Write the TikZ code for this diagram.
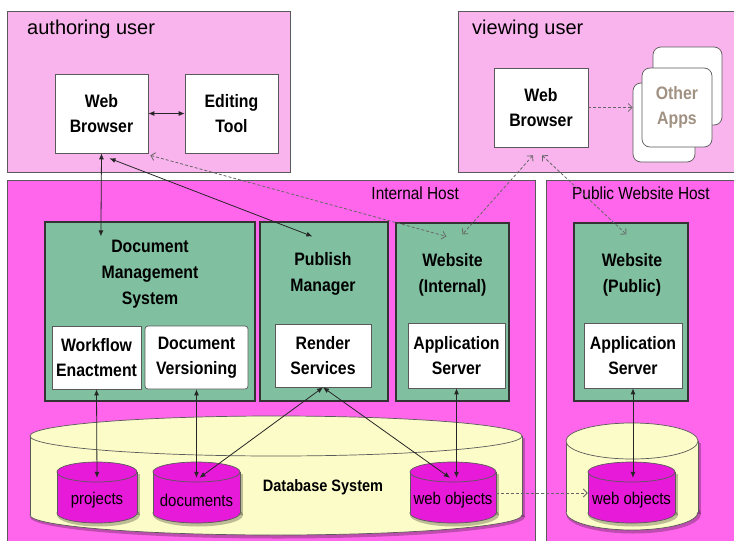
\documentclass[tikz,border=0pt]{standalone}
\usepackage{fontspec}
\setmainfont{Liberation Sans}
\newfontfamily\tallfont{Liberation Sans}[FakeStretch=0.88]
\usetikzlibrary{arrows.meta}
\definecolor{userpink}{RGB}{249,180,238}
\definecolor{hostpink}{RGB}{255,102,236}
\definecolor{boxgreen}{RGB}{128,192,160}
\definecolor{dbyellow}{RGB}{252,252,200}
\definecolor{cylmag}{RGB}{230,26,216}
\definecolor{appgray}{RGB}{160,145,130}
\definecolor{edgegray}{RGB}{90,90,90}
\newcommand\drawcyl[6]{%
  \fill[black, opacity=0.25] (#1+1.5,#3+2) ellipse [x radius=#4+1.5, y radius=#5+1.5];
  \fill[black, opacity=0.25] (#1-#4+1.5,#2+2) rectangle (#1+#4+3,#3+2);
  \filldraw[fill=#6, draw=edgegray, line width=0.7pt] (#1,#3) ellipse [x radius=#4, y radius=#5];
  \fill[#6] (#1-#4,#2) rectangle (#1+#4,#3);
  \draw[edgegray, line width=0.7pt] (#1-#4,#2) -- (#1-#4,#3) (#1+#4,#2) -- (#1+#4,#3);
  \filldraw[fill=#6, draw=edgegray, line width=0.7pt] (#1,#2) ellipse [x radius=#4, y radius=#5];
}
\tikzset{
  userbox/.style={draw=edgegray, fill=userpink, line width=0.6pt, inner sep=0},
  hostbox/.style={draw=edgegray, fill=hostpink, line width=0.6pt, inner sep=0},
  greenbox/.style={draw=black!80, fill=boxgreen, line width=1.2pt, inner sep=0},
  wbox/.style={draw=edgegray, fill=white, line width=0.7pt, align=center, inner sep=0,
    font=\tallfont\fontsize{18}{25.5}\selectfont\bfseries},
  appcard/.style={draw=edgegray, fill=white, line width=0.7pt, rounded corners=8pt, inner sep=0,
    align=center, text=appgray, font=\tallfont\fontsize{18}{25.5}\selectfont\bfseries},
  title/.style={align=center, inner sep=0, font=\tallfont\fontsize{18}{26}\selectfont\bfseries},
  grouplabel/.style={inner sep=0, font=\fontsize{20}{24}\selectfont},
  hostlabel/.style={inner sep=0, font=\tallfont\fontsize{17.5}{20}\selectfont},
  cyllabel/.style={inner sep=0, font=\tallfont\fontsize{17}{20}\selectfont},
  conn/.style={black!85, line width=0.8pt, {Latex[length=6pt,width=5pt]}-{Latex[length=6pt,width=5pt]}},
  dconn/.style={black!60, line width=0.8pt, dash pattern=on 3pt off 2pt,
    {Straight Barb[length=4pt,width=8pt]}-{Straight Barb[length=4pt,width=8pt]}},
  dconnone/.style={black!60, line width=0.8pt, dash pattern=on 3pt off 2pt,
    -{Straight Barb[length=4pt,width=8pt]}},
}
\begin{document}
\begin{tikzpicture}[x=1pt, y=-1pt]
\useasboundingbox (0,0) rectangle (734,541);
\fill[white] (0,0) rectangle (734,541);
% hosts
\node[hostbox, minimum width=528pt, minimum height=364pt] (intHost) at (271,362) {};
\node[hostbox, minimum width=200pt, minimum height=364pt] (pubHost) at (646,362) {};
\node[hostlabel, anchor=base east] (intHostT) at (459,199) {Internal Host};
\node[hostlabel, anchor=base west] (pubHostT) at (572,199) {Public Website Host};
% users
\node[userbox, minimum width=283pt, minimum height=161pt] (authU) at (148.5,91.5) {};
\node[userbox, minimum width=290pt, minimum height=161pt] (viewU) at (603,91.5) {};
\node[grouplabel, anchor=base west] (authUT) at (27,34) {authoring user};
\node[grouplabel, anchor=base west] (viewUT) at (472,34) {viewing user};
\node[wbox, minimum width=93pt, minimum height=79pt] (wbA) at (101.5,113.5) {Web\\Browser};
\node[wbox, minimum width=93pt, minimum height=79pt] (edit) at (231.5,113.5) {Editing\\Tool};
\node[wbox, minimum width=94pt, minimum height=79pt] (wbV) at (541,107.5) {Web\\Browser};
\node[appcard, minimum width=69pt, minimum height=78pt] (app1) at (687.5,86) {};
\node[appcard, minimum width=62pt, minimum height=79pt] (app2) at (664,122.5) {};
\node[appcard, minimum width=70pt, minimum height=79pt] (app3) at (677,107.5) {Other\\Apps};
% green components
\node[greenbox, minimum width=210pt, minimum height=179pt] (dms) at (150,311.5) {};
\node[greenbox, minimum width=128pt, minimum height=179pt] (pm) at (324,311.5) {};
\node[greenbox, minimum width=113pt, minimum height=178pt] (wsI) at (452.5,312) {};
\node[greenbox, minimum width=114pt, minimum height=178pt] (wsP) at (631,312) {};
\node[title] (dmsT) at (150,274) {Document\\Management\\System};
\node[title] (pmT) at (323,274) {Publish\\Manager};
\node[title] (wsIT) at (452.5,275) {Website\\(Internal)};
\node[title] (wsPT) at (632,275) {Website\\(Public)};
\node[wbox, minimum width=89pt, minimum height=63pt] (wf) at (96.5,357.5) {Workflow\\Enactment};
\node[wbox, rounded corners=3pt, minimum width=103pt, minimum height=63pt] (dv) at (196.5,357.5) {Document\\Versioning};
\node[wbox, minimum width=96pt, minimum height=63pt] (rs) at (323,355.5) {Render\\Services};
\node[wbox, minimum width=97pt, minimum height=65pt] (asI) at (456.5,355.5) {Application\\Server};
\node[wbox, minimum width=98pt, minimum height=65pt] (asP) at (633,355.5) {Application\\Server};
% databases
\drawcyl{276}{436}{515}{246}{20}{dbyellow}
\drawcyl{632}{441}{512}{66}{18}{dbyellow}
\drawcyl{97}{472}{513}{40}{10}{cylmag}
\drawcyl{196.5}{472}{513}{43.5}{10}{cylmag}
\drawcyl{453}{472}{513}{43}{10}{cylmag}
\drawcyl{631.5}{472}{513}{43.5}{10}{cylmag}
\node[inner sep=0, font=\tallfont\fontsize{16.5}{18}\selectfont\bfseries] (dbT) at (323,487) {Database System};
\node[cyllabel, minimum width=80pt, minimum height=44pt] (projects) at (97,500) {projects};
\node[cyllabel, minimum width=87pt, minimum height=44pt] (documents) at (196.5,500) {documents};
\node[cyllabel, minimum width=86pt, minimum height=44pt] (woI) at (453,500) {web objects};
\node[cyllabel, minimum width=87pt, minimum height=44pt] (woP) at (631.5,500) {web objects};
% connectors
\draw[conn] (wbA.east) -- (edit.west);
\draw[conn] (wbA.south) -- ([shift={(56.5,15)}]dms.north west);
\draw[conn] ([shift={(8,5)}]wbA.south) -- ([shift={(53,15)}]pm.north west);
\draw[dconn] ([shift={(2,2)}]wbA.south east) -- ([shift={(51,14)}]wsI.north west);
\draw[dconn] ([shift={(-8,8)}]wbV.south) -- ([shift={(67,12)}]wsI.north west);
\draw[dconn] ([shift={(1,8)}]wbV.south) -- ([shift={(53,12)}]wsP.north west);
\draw[dconnone] (wbV.east) -- (wbV.east -| app2.west);
\draw[conn] (wf.south) -- (projects.north);
\draw[conn] (dv.south) -- (documents.north);
\draw[conn] (rs.south) -- ([xshift=3pt]documents.north);
\draw[conn] (rs.south) -- ([xshift=-3pt]woI.north);
\draw[conn] (asI.south) -- (asI.south |- woI.north);
\draw[conn] (asP.south) -- (asP.south |- woP.north);
\draw[dconnone] ([yshift=7pt]woI.east) -- ([yshift=7pt]woP.west);
\end{tikzpicture}
\end{document}
